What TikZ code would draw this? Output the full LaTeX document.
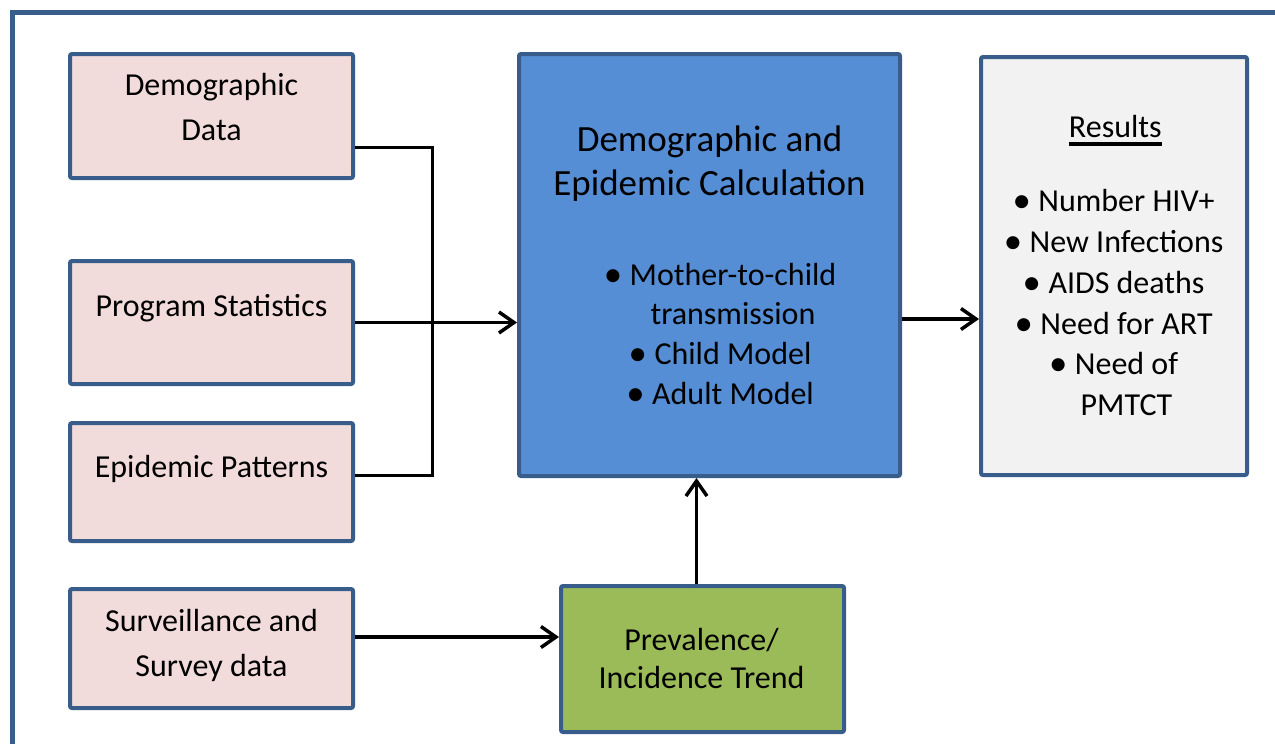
\documentclass[tikz,border=0pt]{standalone}
\usepackage{fontspec}
\usepackage{graphicx}
\setmainfont{Carlito}
\usetikzlibrary{arrows.meta,calc}
\definecolor{bord}{HTML}{385D8A}
\definecolor{pinkf}{HTML}{F2DCDB}
\definecolor{bluef}{HTML}{558ED5}
\definecolor{greenf}{HTML}{9BBB59}
\definecolor{greyf}{HTML}{F2F2F2}
\newcommand\bul{\llap{\raisebox{-1pt}{\scalebox{1.15}{\textbullet}}\hspace{7.5pt}}}
\newcommand\myul[1]{\setbox0\hbox{#1}\rlap{\rule[-8pt]{\wd0}{3.5pt}}\box0}
\newcommand\topstrut{\rule{0pt}{40pt}}
\begin{document}
\begin{tikzpicture}[x=1pt,y=-1pt,
  box/.style={draw=bord, line width=4pt, rounded corners=2pt, inner sep=0pt},
  txt/.style={inner sep=0pt, align=center, anchor=north, text=black},
  body/.style={font=\fontsize{32}{45}\selectfont},
  frame/.style={draw=bord, line width=5pt},
  conn/.style={line width=3pt, draw=black},
  arr/.style={line width=3.5pt, draw=black, -{Straight Barb[length=15pt,width=21pt]}}]
\clip (0,0) rectangle (1275,744);
\fill[white] (0,0) rectangle (1275,744);
\draw[frame] (12.5,12.5) rectangle (1320,800);
% boxes
\node[box, fill=pinkf, minimum width=283pt, minimum height=124pt] (dem) at (211.5,116) {};
\node[box, fill=pinkf, minimum width=283pt, minimum height=123pt] (prog) at (211.5,322.5) {};
\node[box, fill=pinkf, minimum width=283pt, minimum height=118pt] (epi) at (211.5,482) {};
\node[box, fill=pinkf, minimum width=283pt, minimum height=119pt] (surv) at (211.5,648.5) {};
\node[box, fill=bluef, minimum width=381pt, minimum height=422pt] (calc) at (709.5,265) {};
\node[box, fill=greyf, minimum width=266pt, minimum height=418pt] (res) at (1114,266) {};
\node[box, fill=greenf, minimum width=283pt, minimum height=146pt] (trend) at (702.5,659) {};
% texts
\node[txt, body] (demT) at (211.5,55) {\topstrut Demographic\\Data};
\node[txt, body] (progT) at (211.5,276) {\topstrut Program Statistics};
\node[txt, body] (epiT) at (211.5,437) {\topstrut Epidemic Patterns};
\node[txt, font=\fontsize{32}{44.3}\selectfont] (survT) at (211.5,591.7) {\topstrut Surveillance and\\Survey data};
\node[txt, font=\fontsize{37}{43.3}\selectfont] (calcT) at (709.5,111.7) {\topstrut Demographic and\\Epidemic Calculation};
\node[txt, font=\fontsize{32}{39.7}\selectfont] (calcL) at (733,245) {\topstrut\bul Mother-to-child\\transmission\\\bul Child Model\\\bul Adult Model};
\node[txt, font=\fontsize{32}{40}\selectfont] (resH) at (1115.3,97.3) {\topstrut\myul{Results}};
\node[txt, font=\fontsize{32}{40.7}\selectfont] (resL) at (1126.5,171.7) {\topstrut\bul Number HIV+\\\bul New Infections\\\bul AIDS deaths\\\bul Need for ART\\\bul Need of\\PMTCT};
\node[txt, font=\fontsize{32}{38.3}\selectfont] (trendT) at (701.5,610) {\topstrut Prevalence/\\Incidence Trend};
% connectors
\coordinate (jt) at (432,147);
\coordinate (jb) at (432,475);
\coordinate (sa) at (400,637);
\draw[conn] (dem.east |- jt) -- (jt) -- (jb) -- (epi.east |- jb);
\draw[arr] (prog.east) -- (prog.east -| calc.west);
\draw[arr] (calc.east |- 0,319) -- (res.west |- 0,319);
\draw[arr] ([xshift=-6pt]trend.north) -- ([xshift=-6pt]trend.north |- calc.south);
\draw[arr] (surv.east |- sa) -- (trend.west |- sa);
\end{tikzpicture}
\end{document}
